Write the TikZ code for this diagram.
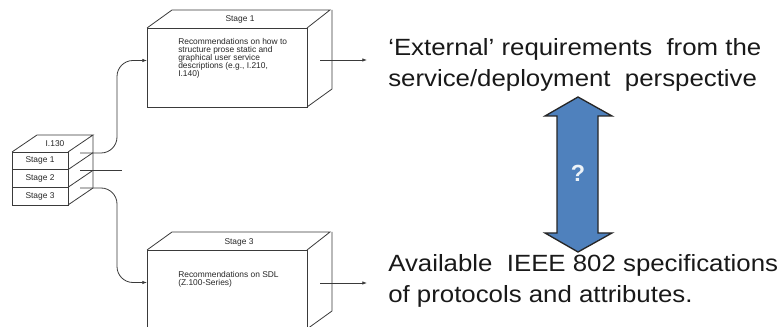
\documentclass[tikz,border=0pt]{standalone}
\usepackage{fontspec}
\setmainfont{Liberation Sans}
\newfontfamily\slidefont[FakeStretch=1.1]{Liberation Sans}
\usepackage{tikz}
\usetikzlibrary{arrows.meta}
\definecolor{qblue}{HTML}{4F81BD}
\definecolor{scan}{HTML}{3A3A3A}

\begin{document}
\begin{tikzpicture}[x=0.75pt,y=0.75pt,yscale=-1,
  scanline/.style={draw=scan, line width=0.6pt},
  face/.style={scanline, inner sep=0pt, outer sep=0pt},
  tiny/.style={font=\fontsize{6.3}{6.1}\selectfont, inner sep=0pt, text=black!85},
  link/.style={scanline, rounded corners=12pt, -{Latex[length=3.5pt,width=2.6pt]}},
  slide/.style={font=\slidefont\fontsize{17.6}{23.25}\selectfont, inner sep=0pt, align=left, text=black!90}]
\useasboundingbox (0,0) rectangle (784,327);

%Shape: Box I.130 [stack of three stages]
\node [face, minimum width=42pt, minimum height=13.25pt, anchor=north west] (rowone) at (12,152) {};
\node [face, minimum width=42pt, minimum height=13.25pt, anchor=north] (rowtwo) at (rowone.south) {};
\node [face, minimum width=42pt, minimum height=13.25pt, anchor=north] (rowthree) at (rowtwo.south) {};
\draw [scanline] (rowone.north west) -- ++(25,-17) -- ++(56,0) -- (rowone.north east) ;
\draw [scanline] (rowone.north east) ++(25,-17) -- ++(0,53) -- (rowthree.south east) ;
\draw [scanline] (rowone.south east) -- ++(25,-17) ;
\draw [scanline] (rowtwo.south east) -- ++(25,-17) ;

%Shape: Box Stage 1
\node [face, minimum width=120pt, minimum height=59.25pt, anchor=north west] (stone) at (147,28) {};
\draw [scanline] (stone.north west) -- ++(25,-18) -- ++(158,0) -- (stone.north east) ;
\draw [scanline] (stone.north east) ++(25,-18) -- ++(0,79) -- (stone.south east) ;

%Shape: Box Stage 3
\node [face, minimum width=120pt, minimum height=59.25pt, anchor=north west] (sthree) at (147,250) {};
\draw [scanline] (sthree.north west) -- ++(25,-18) -- ++(158,0) -- (sthree.north east) ;
\draw [scanline] (sthree.north east) ++(25,-18) -- ++(0,79) -- (sthree.south east) ;

% Text Node
\node [tiny] (itulabel) at (55,144) {I.130};
\node [tiny] at (rowone) {Stage 1};
\node [tiny] at (rowtwo) {Stage 2};
\node [tiny] at (rowthree) {Stage 3};
% Text Node
\node [tiny] (stonetitle) at (240,19) {Stage 1};
\node [tiny, anchor=north west, align=left] (stonetext) at (178,38) {Recommendations on how to\\structure prose static and\\graphical user service\\descriptions (e.g., I.210,\\I.140)};
% Text Node
\node [tiny] (sthreetitle) at (239,242) {Stage 3};
\node [tiny, anchor=north west, align=left] (sthreetext) at (178,271) {Recommendations on SDL\\(Z.100-Series)};

%Curve Lines [stack to boxes]
\coordinate (tapone) at (80,153);
\coordinate (taptwo) at (80,170);
\coordinate (tapthree) at (80,188);
\coordinate (twoend) at (122,170);
\draw [link] (tapone) -| (117,100) |- (stone.175) ;
\draw [scanline] (taptwo) -- (twoend) ;
\draw [link] (tapthree) -| (117,230) |- (sthree.175) ;

%Straight Lines [outputs]
\coordinate (stoneout) at (320,60);
\coordinate (stoneend) at (367,60);
\coordinate (sthreeout) at (320,283);
\coordinate (sthreeend) at (367,283);
\draw [link] (stoneout) -- (stoneend) ;
\draw [link] (sthreeout) -- (sthreeend) ;

%Shape: Up Down Arrow
\draw [draw=black!85, line width=1pt, fill=qblue, line join=miter] (578,97) -- (612,116) -- (598,116) -- (598,233) -- (612,233) -- (578,252) -- (545,233) -- (557,233) -- (557,116) -- (545,116) -- cycle ;
\node [font=\bfseries\fontsize{17.5}{20}\selectfont, text=white!90!qblue] (qmark) at (578,173) {?};

% Text Node
\node [slide, anchor=north west] (extreq) at (388,38) {‘External’ requirements\ \ from the\\service/deployment\ \ perspective};
\node [slide, anchor=north west] (ieeespec) at (388,254) {Available\ \ IEEE 802 specifications\\of protocols and attributes.};

\end{tikzpicture}
\end{document}
